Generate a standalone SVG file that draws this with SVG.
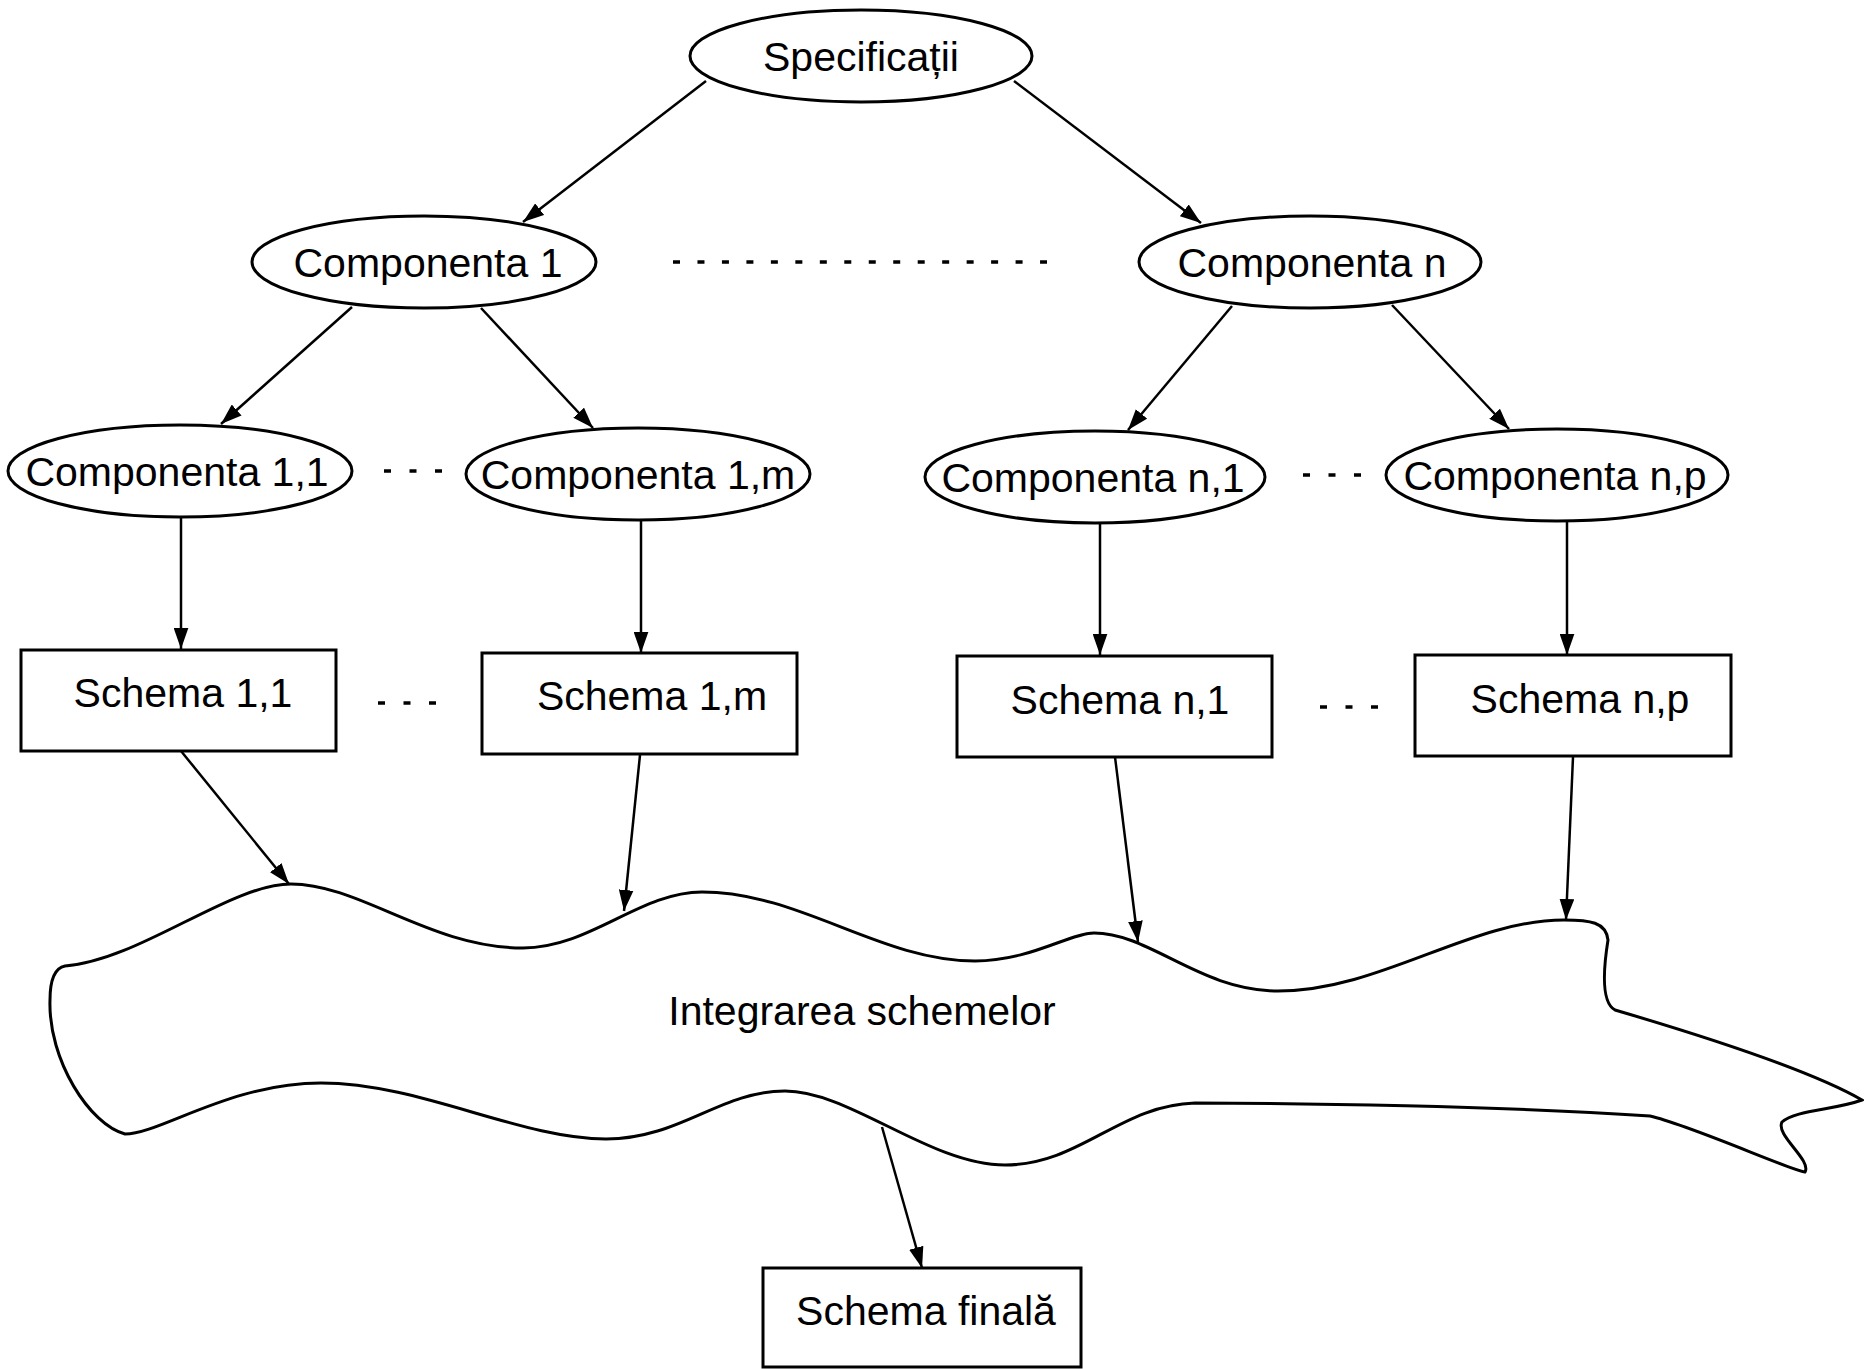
<svg xmlns="http://www.w3.org/2000/svg" width="1864" height="1369" viewBox="0 0 1864 1369">
<style>
.n{fill:#fff;stroke:#000;stroke-width:3}
.t{font-family:"Liberation Sans",Arial,sans-serif;font-size:41px;fill:#000;text-anchor:middle}
.c{stroke:#000;stroke-width:2.5;fill:none;marker-end:url(#ah)}
.d{stroke:#000;stroke-width:3.5;fill:none}
</style>
<defs>
<marker id="ah" viewBox="0 0 20 14" refX="20" refY="7" markerWidth="21" markerHeight="15" markerUnits="userSpaceOnUse" orient="auto">
<path d="M0,0 L20,7 L0,14 z" fill="#000"/>
</marker>
</defs>
<rect width="1864" height="1369" fill="#fff"/>
<g id="integrare">
<path class="n" d="M65,966 C140,960 230,884 291,884 C360,884 430,948 523,948 C590,948 640,892 702,892 C800,892 880,961 975,961 C1030,961 1070,933 1094,933 C1150,933 1200,991 1278,991 C1380,991 1470,920 1564,920 C1590,920 1606,922 1608,940 C1604,965 1600,1002 1615,1010 C1700,1035 1810,1070 1862,1100 C1835,1110 1795,1110 1782,1122 C1775,1135 1812,1160 1805,1172 C1790,1170 1690,1125 1650,1116 C1500,1106 1300,1103 1195,1103 C1120,1105 1080,1165 1005,1165 C930,1165 850,1091 785,1091 C720,1091 680,1139 606,1139 C520,1139 420,1083 321,1083 C230,1083 160,1134 125,1134 C90,1125 48,1060 50,1000 C50,980 55,968 65,966 Z"/>
<text class="t" x="862" y="1025">Integrarea schemelor</text>
</g>
<g id="connectors">
<path class="c" d="M706,81 L523,222"/>
<path class="c" d="M1014,81 L1201,223"/>
<path class="c" d="M352,307 L221,424"/>
<path class="c" d="M481,308 L593,428"/>
<path class="c" d="M1232,306 L1128,430"/>
<path class="c" d="M1392,305 L1509,429"/>
<path class="c" d="M181,518 L181,649"/>
<path class="c" d="M641,521 L641,653"/>
<path class="c" d="M1100,524 L1100,655"/>
<path class="c" d="M1567,522 L1567,655"/>
<path class="c" d="M181,751 L289,884"/>
<path class="c" d="M640,755 L624,911"/>
<path class="c" d="M1115,757 L1138,942"/>
<path class="c" d="M1573,757 L1566,920"/>
<path class="c" d="M882,1127 L922,1268"/>
</g>
<g id="dots">
<line class="d" x1="673" y1="262" x2="1047" y2="262" stroke-dasharray="7 17.47"/>
<line class="d" x1="384" y1="471" x2="442" y2="471" stroke-dasharray="7 18.5"/>
<line class="d" x1="1303" y1="475" x2="1361" y2="475" stroke-dasharray="7 18.5"/>
<line class="d" x1="378" y1="703" x2="436" y2="703" stroke-dasharray="7 18.5"/>
<line class="d" x1="1320" y1="707" x2="1378" y2="707" stroke-dasharray="7 18.5"/>
</g>
<g id="specificatii"><ellipse class="n" cx="861" cy="56" rx="171" ry="46"/><text class="t" x="861" y="71">Specificații</text></g>
<g id="comp1"><ellipse class="n" cx="424" cy="262" rx="172" ry="46"/><text class="t" x="428" y="277">Componenta 1</text></g>
<g id="compn"><ellipse class="n" cx="1310" cy="262" rx="171" ry="46"/><text class="t" x="1312" y="277">Componenta n</text></g>
<g id="comp11"><ellipse class="n" cx="180" cy="471" rx="172" ry="46"/><text class="t" x="177" y="486">Componenta 1,1</text></g>
<g id="comp1m"><ellipse class="n" cx="638" cy="474" rx="172" ry="46"/><text class="t" x="638" y="489">Componenta 1,m</text></g>
<g id="compn1"><ellipse class="n" cx="1095" cy="477" rx="170" ry="46"/><text class="t" x="1093" y="492">Componenta n,1</text></g>
<g id="compnp"><ellipse class="n" cx="1557" cy="475" rx="171" ry="46"/><text class="t" x="1555" y="490">Componenta n,p</text></g>
<g id="schema11"><rect class="n" x="21" y="650" width="315" height="101"/><text class="t" x="183" y="707">Schema 1,1</text></g>
<g id="schema1m"><rect class="n" x="482" y="653" width="315" height="101"/><text class="t" x="652" y="710">Schema 1,m</text></g>
<g id="scheman1"><rect class="n" x="957" y="656" width="315" height="101"/><text class="t" x="1120" y="714">Schema n,1</text></g>
<g id="schemanp"><rect class="n" x="1415" y="655" width="316" height="101"/><text class="t" x="1580" y="713">Schema n,p</text></g>
<g id="schemafinala"><rect class="n" x="763" y="1268" width="318" height="99"/><text class="t" x="926" y="1325">Schema finală</text></g>
</svg>
